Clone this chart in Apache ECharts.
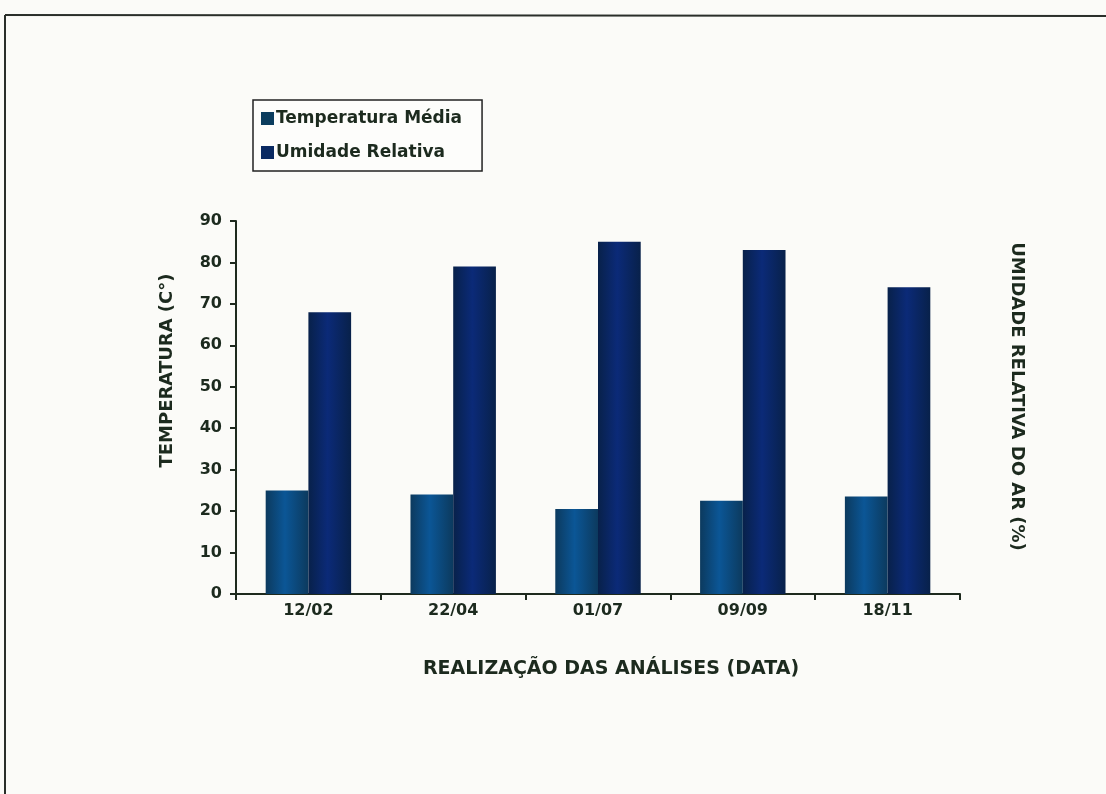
<!DOCTYPE html>
<html>
<head>
<meta charset="utf-8">
<script src="https://cdn.jsdelivr.net/npm/echarts@6/dist/echarts.min.js"></script>
<style>
  html, body { margin: 0; padding: 0; background: #fbfbf8; }
  #chart { width: 1106px; height: 794px; }
</style>
</head>
<body>
<div id="chart"></div>
<script>
// Sampling dates
const categories = ['12/02', '22/04', '01/07', '09/09', '18/11'];
// Mean temperature (°C)
const temperaturaMedia = [25, 24, 20.5, 22.5, 23.5];
// Relative air humidity (%)
const umidadeRelativa = [68, 79, 85, 83, 74];
const yTicks = { min: 0, max: 90, interval: 10 };

const textColor = '#1c2a1e';
const font = '"DejaVu Sans", "Liberation Sans", Arial, sans-serif';

// Horizontal shading: darker at the edges, brighter in the middle
function shade(edge, mid) {
  return new echarts.graphic.LinearGradient(0, 0, 1, 0, [
    { offset: 0, color: edge },
    { offset: 0.45, color: mid },
    { offset: 1, color: edge }
  ]);
}

const nameStyle = { fontFamily: font, fontWeight: 'bold', fontSize: 18, color: textColor };

const chart = echarts.init(document.getElementById('chart'), null, { renderer: 'canvas' });
chart.setOption({
  backgroundColor: '#fbfbf8',
  animation: false,
  textStyle: { fontFamily: font, color: textColor },
  graphic: [
    { type: 'line', shape: { x1: 5, y1: 15, x2: 1106, y2: 16 }, style: { stroke: '#2a2f2a', lineWidth: 2 } },
    { type: 'line', shape: { x1: 5, y1: 15, x2: 5, y2: 794 }, style: { stroke: '#2a2f2a', lineWidth: 2 } }
  ],
  legend: {
    orient: 'vertical',
    left: 253,
    top: 100,
    padding: [10, 20, 10, 8],
    itemGap: 17,
    itemWidth: 13,
    itemHeight: 13,
    borderColor: '#222',
    borderWidth: 1.5,
    backgroundColor: '#fdfdfb',
    textStyle: { fontFamily: font, fontWeight: 'bold', fontSize: 17, color: textColor, padding: [0, 0, 0, -3] },
    data: [
      { name: 'Temperatura Média', icon: 'rect', itemStyle: { color: '#0b3d5e' } },
      { name: 'Umidade Relativa', icon: 'rect', itemStyle: { color: '#0a2a62' } }
    ]
  },
  grid: { left: 236, right: 146, top: 221, bottom: 200, containLabel: false },
  xAxis: {
    type: 'category',
    data: categories,
    name: 'REALIZAÇÃO DAS ANÁLISES (DATA)',
    nameLocation: 'middle',
    nameGap: 66,
    nameTextStyle: Object.assign({}, nameStyle, { fontSize: 19, padding: [0, 0, 0, 26] }),
    axisLine: { lineStyle: { color: '#1e2a1e', width: 2 } },
    axisTick: { show: true, length: 6, inside: false, lineStyle: { color: '#1e2a1e', width: 2 } },
    axisLabel: { margin: 9, fontFamily: font, fontWeight: 'bold', fontSize: 16, color: textColor },
    splitLine: { show: false }
  },
  yAxis: [
    {
      type: 'value',
      min: yTicks.min,
      max: yTicks.max,
      interval: yTicks.interval,
      name: 'TEMPERATURA (C°)',
      nameLocation: 'middle',
      nameGap: 60,
      nameRotate: 90,
      nameTextStyle: Object.assign({}, nameStyle, { padding: [0, 0, 0, 74] }),
      axisLine: { show: true, lineStyle: { color: '#1e2a1e', width: 2 } },
      axisTick: { show: true, length: 6, lineStyle: { color: '#1e2a1e', width: 2 } },
      axisLabel: { margin: 14, fontFamily: font, fontWeight: 'bold', fontSize: 16, color: textColor },
      splitLine: { show: false }
    },
    {
      type: 'value',
      min: yTicks.min,
      max: yTicks.max,
      interval: yTicks.interval,
      position: 'right',
      name: 'UMIDADE RELATIVA DO AR (%)',
      nameLocation: 'middle',
      nameGap: 48,
      nameRotate: -90,
      nameTextStyle: Object.assign({}, nameStyle, { padding: [0, 22, 0, 0] }),
      axisLine: { show: false },
      axisTick: { show: false },
      axisLabel: { show: false },
      splitLine: { show: false }
    }
  ],
  series: [
    {
      name: 'Temperatura Média',
      type: 'bar',
      data: temperaturaMedia,
      barGap: '0%',
      barCategoryGap: '41%',
      itemStyle: { color: shade('#0c3a5e', '#0b5696') }
    },
    {
      name: 'Umidade Relativa',
      type: 'bar',
      yAxisIndex: 1,
      data: umidadeRelativa,
      barGap: '0%',
      barCategoryGap: '41%',
      itemStyle: { color: shade('#08214a', '#0b2a78') }
    }
  ]
});
</script>
</body>
</html>
